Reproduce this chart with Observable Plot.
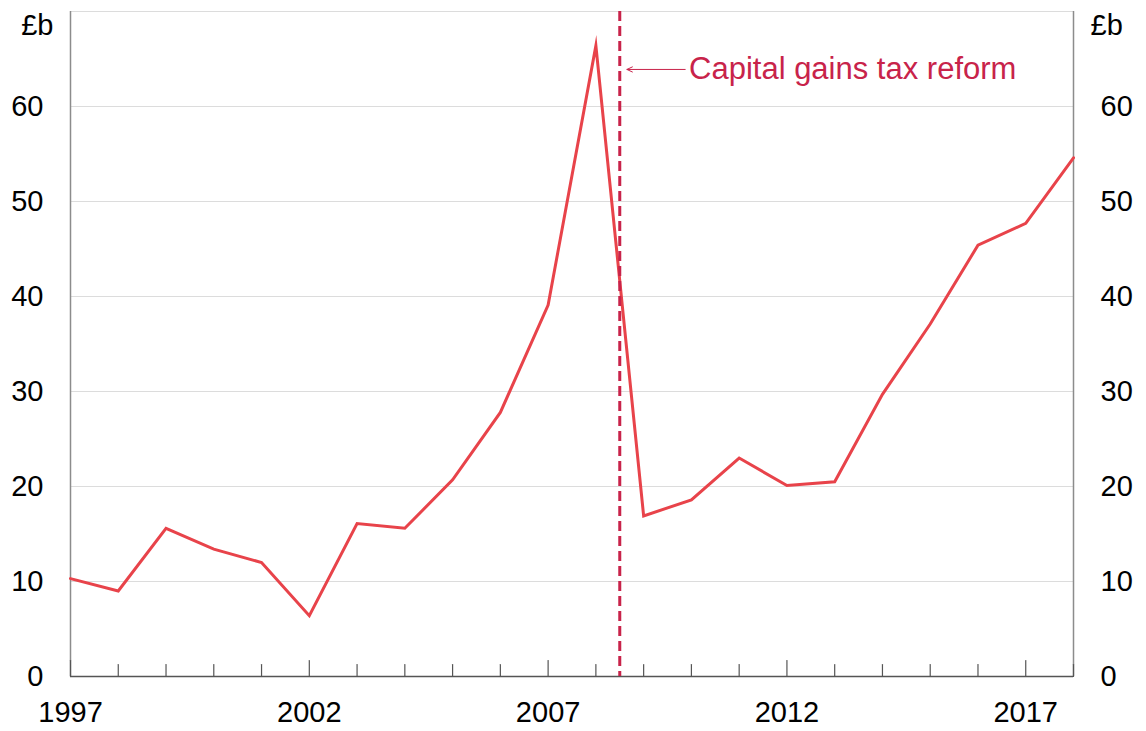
<!DOCTYPE html>
<html>
<head>
<meta charset="utf-8">
<script src="https://cdn.jsdelivr.net/npm/d3@7"></script>
<script src="https://cdn.jsdelivr.net/npm/@observablehq/plot@0.6"></script>
<style>
  html, body { margin: 0; padding: 0; background: #fff; }
  #chart { width: 1146px; height: 731px; }
  svg { font-family: "Liberation Sans", Arial, sans-serif; }
</style>
</head>
<body>
<div id="chart"></div>
<script>
// Data (£b)
const years  = [1997, 1998, 1999, 2000, 2001, 2002, 2003, 2004, 2005, 2006, 2007,
                2008, 2009, 2010, 2011, 2012, 2013, 2014, 2015, 2016, 2017, 2018];
const values = [10.3, 9.0, 15.6, 13.4, 12.0, 6.4, 16.1, 15.6, 20.7, 27.8, 39.1,
                66.4, 16.9, 18.6, 23.0, 20.1, 20.5, 29.7, 37.1, 45.4, 47.7, 54.6];

const xLabelTicks = [1997, 2002, 2007, 2012, 2017];
const yLabelTicks = [0, 10, 20, 30, 40, 50, 60];
const gridTicks   = [10, 20, 30, 40, 50, 60, 70];
const unitLabel   = ["£b"];
const unitLevel   = 70;

// Annotation
const reformYear      = [2008.5];
const annotationText  = ["Capital gains tax reform"];
const annotationStart = 2009.95;   // text start (year)
const arrowTail       = 2009.87;   // arrow tail (year)
const annotationEnd   = 2008.65;   // arrow head (year)
const annotationLevel = 63.9;      // £b

const data = years.map((y, i) => ({year: y, value: values[i]}));
const lineColor = "#e8434a";
const reformColor = "#c8234a";
const axisFont = 29;

const tickShape = {draw(context, l) { context.moveTo(0, 0); context.lineTo(0, -l); }};

const chart = Plot.plot({
  width: 1146,
  height: 731,
  marginLeft: 70,
  marginRight: 73,
  marginTop: 11,
  marginBottom: 55,
  style: {fontFamily: "'Liberation Sans', Arial, sans-serif", fontSize: "29px", color: "#000", background: "#fff"},
  x: {domain: [1997, 2018], label: null},
  y: {domain: [0, 70], label: null},
  marks: [
    Plot.gridY(gridTicks, {stroke: "#dcdcdc", strokeOpacity: 1, strokeWidth: 1}),
    Plot.ruleX([years[0], years[years.length - 1]], {stroke: "#8c8c8c", strokeWidth: 1.5}),
    Plot.ruleY([0], {stroke: "#555", strokeWidth: 1.5}),
    Plot.vector(years, {x: d => d, y: 0, length: d => xLabelTicks.includes(d) ? 8 : 6, rotate: 0, anchor: "start", shape: tickShape, stroke: "#555", strokeWidth: 1.2}),
    Plot.axisY({anchor: "left", ticks: yLabelTicks, tickSize: 0, tickPadding: 27, fontSize: axisFont, fill: "#000", label: null}),
    Plot.axisY({anchor: "right", ticks: yLabelTicks, tickSize: 0, tickPadding: 27, textAnchor: "start", fontSize: axisFont, fill: "#000", label: null}),
    Plot.axisX({ticks: xLabelTicks, tickSize: 0, tickPadding: 25, tickFormat: d => String(d), fontSize: axisFont, fill: "#000", label: null}),
    Plot.text(unitLabel, {x: years[0], y: unitLevel, text: d => d, textAnchor: "end", lineAnchor: "top", dx: -17, dy: 3, fontSize: axisFont, fill: "#000"}),
    Plot.text(unitLabel, {x: years[years.length - 1], y: unitLevel, text: d => d, textAnchor: "start", lineAnchor: "top", dx: 17, dy: 3, fontSize: axisFont, fill: "#000"}),
    Plot.line(data, {x: "year", y: "value", stroke: lineColor, strokeWidth: 3, strokeLinejoin: "miter", strokeMiterlimit: 10}),
    Plot.ruleX(reformYear, {x: d => d, stroke: reformColor, strokeWidth: 3, strokeDasharray: "10,5"}),
    Plot.arrow([0], {x1: arrowTail, x2: annotationEnd, y1: annotationLevel, y2: annotationLevel, stroke: reformColor, strokeWidth: 1, headLength: 9, headAngle: 50}),
    Plot.text(annotationText, {x: annotationStart, y: annotationLevel, text: d => d, textAnchor: "start", lineAnchor: "middle", fontSize: 31, fill: reformColor})
  ]
});
document.getElementById("chart").appendChild(chart);
</script>
</body>
</html>
